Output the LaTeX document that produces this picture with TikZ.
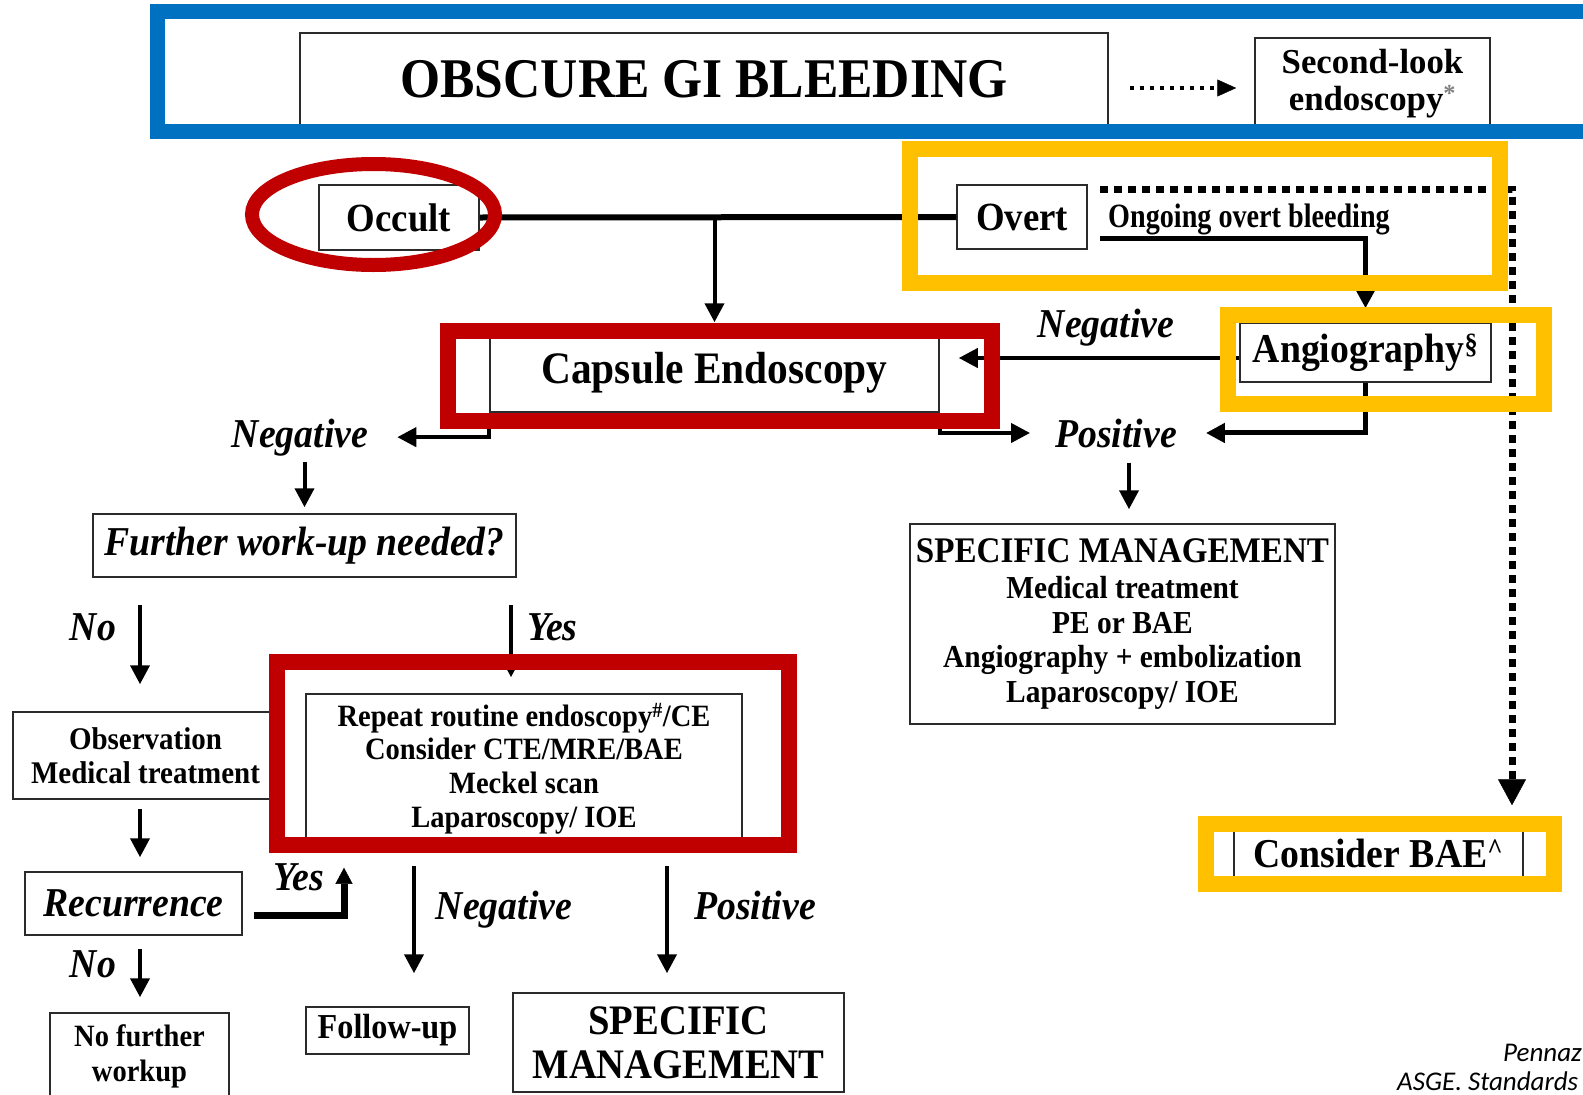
\documentclass[tikz,border=0pt]{standalone}
\usepackage{graphicx}
\usepackage{fontspec}
\setmainfont{Liberation Serif}[FakeStretch=0.92]
\newfontfamily\footfont{Carlito}
\usetikzlibrary{arrows.meta}
\definecolor{hlblue}{HTML}{0070C0}
\definecolor{hlred}{HTML}{C00000}
\definecolor{hlyellow}{HTML}{FFC000}
\definecolor{boxline}{HTML}{2B2B2B}
\newcommand{\fsz}[2]{\fontsize{#1}{#2}\selectfont}
\tikzset{
  box/.style={draw=boxline, line width=1.5pt, inner sep=0pt, align=center},
  lbl/.style={inner sep=0pt, font=\bfseries\itshape\fsz{41}{48}},
  conn/.style={line width=4pt, -{Triangle[length=19pt,width=19pt]}},
  hl/.style={line width=16pt},
}
\begin{document}
\begin{tikzpicture}[x=1pt,y=-1pt]
\useasboundingbox (0,0) rectangle (1583,1095);
\clip (0,0) rectangle (1583,1095);
\fill[white] (0,0) rectangle (1583,1095);

% ---------- boxes ----------
\node[box, minimum width=808pt, minimum height=93pt, font=\bfseries\fsz{56}{60}] (obscure) at (704,79.5) {OBSCURE GI BLEEDING};
\node[box, minimum width=235pt, minimum height=88pt] (second) at (1372.5,82) {};
\node[inner sep=0pt, align=center, font=\bfseries\fsz{35}{37}] (secondtxt) at (1372.5,84) {\scalebox{1.08}[1]{Second-look}\\\scalebox{1.08}[1]{endoscopy\textsuperscript{\color{gray}*}}};
\node[box, minimum width=160pt, minimum height=65pt, font=\bfseries\fsz{40}{44}] (occult) at (399,217.5) {Occult};
\node[box, minimum width=130pt, minimum height=64pt, font=\bfseries\fsz{40}{44}] (overt) at (1022,217) {Overt};
\node[inner sep=0pt, anchor=base, font=\bfseries\fsz{34}{40}] (ongoing) at (1249,227) {\scalebox{0.9}[1]{Ongoing overt bleeding}};
\node[box, minimum width=449pt, minimum height=79pt, font=\bfseries\fsz{45}{50}] (capsule) at (714.5,372.5) {Capsule Endoscopy};
\node[box, minimum width=251pt, minimum height=59pt, font=\bfseries\fsz{41}{46}] (angio) at (1365.5,352.5) {Angiography\textsuperscript{\S}};
\node[box, minimum width=423pt, minimum height=63pt, font=\bfseries\itshape\fsz{41}{46}] (further) at (304.5,545.5) {Further work-up needed?};
\node[box, minimum width=425pt, minimum height=200pt, font=\bfseries\fsz{32}{34.5}] (specR) at (1122.5,624) {{\fontsize{36}{34.5}\selectfont SPECIFIC MANAGEMENT}\\[2pt]Medical treatment\\PE or BAE\\Angiography + embolization\\Laparoscopy/ IOE};
\node[box, minimum width=265pt, minimum height=87pt, font=\bfseries\fsz{31.5}{34}] (obs) at (145.5,755.5) {Observation\\Medical treatment};
\node[box, minimum width=436pt, minimum height=149pt, font=\bfseries\fsz{31}{33.7}] (repeat) at (524,768.5) {Repeat routine endoscopy\textsuperscript{\#}/CE\\Consider CTE/MRE/BAE\\Meckel scan\\Laparoscopy/ IOE};
\node[box, minimum width=217pt, minimum height=63pt, font=\bfseries\itshape\fsz{41}{46}] (rec) at (133.5,903.5) {Recurrence};
\node[box, minimum width=179pt, minimum height=87pt, font=\bfseries\fsz{31}{35}] (nofurther) at (139.5,1056.5) {No further\\workup};
\node[box, minimum width=163pt, minimum height=47pt, font=\bfseries\fsz{35}{40}] (followup) at (387.5,1030.5) {Follow-up};
\node[box, minimum width=331pt, minimum height=99pt, font=\bfseries\fsz{42}{44}] (specB) at (678.5,1042.5) {SPECIFIC\\MANAGEMENT};
\node[box, minimum width=289pt, minimum height=54pt, font=\bfseries\fsz{41}{46}] (cbae) at (1378.5,853) {Consider BAE\textsuperscript{\textasciicircum}};

% ---------- labels ----------
\node[lbl, anchor=base] (neg1) at (300,447) {Negative};
\node[lbl, anchor=base] (pos1) at (1116,447) {Positive};
\node[lbl, anchor=base] (neg2) at (1106,337) {Negative};
\node[lbl, anchor=base] (no1) at (93,640) {No};
\node[lbl, anchor=base west] (yes1) at (527,640) {Yes};
\node[lbl, anchor=base] (yes2) at (299,890) {Yes};
\node[lbl, anchor=base] (no2) at (93,977) {No};
\node[lbl, anchor=base] (neg3) at (504,919) {Negative};
\node[lbl, anchor=base] (pos3) at (755,919) {Positive};
\node[inner sep=0pt, anchor=base east, font=\footfont\itshape\fsz{27}{30}] (ft1) at (1582,1061) {Pennaz};
\node[inner sep=0pt, anchor=base west, font=\footfont\itshape\fsz{27}{30}] (ft2) at (1397,1090) {ASGE. Standards};

% ---------- helper coordinates ----------
\coordinate (yDot) at (0,88);
\coordinate (og) at (1100,238);
\coordinate (dA) at (1100,189);
\coordinate (dB) at (1512,0);
\coordinate (yNeg) at (0,358);
\coordinate (xS) at (1129,0);
\coordinate (xL) at (140,0);
\coordinate (xY) at (511,0);
\coordinate (yR) at (0,915);
\coordinate (xU) at (344,0);
\coordinate (xN) at (414,0);
\coordinate (xP) at (667,0);

% ---------- connectors ----------
\draw[line width=4pt, dash pattern=on 4pt off 6pt, -{Triangle[length=19pt,width=17pt,line width=0.5pt]}, shorten <=21pt, shorten >=18pt] (obscure.east |- yDot) -- (second.west |- yDot);
\draw[line width=6pt] (occult.east) -- (overt.west);
\draw[conn, shorten >=10pt] (capsule.north |- occult.east) -- (capsule.north);
\draw[conn, line width=5pt, shorten >=14pt] (og) -| (angio.north);
\draw[line width=7pt, dash pattern=on 8pt off 6pt, -{Triangle[length=26pt,width=28pt,line width=0.5pt]}, shorten >=20pt] (dA) -| (cbae.north -| dB);
\draw[conn, shorten >=19pt] (angio.west |- yNeg) -- (capsule.east |- yNeg);
\draw[conn, line width=5pt, shorten >=29pt] (angio.south) |- (pos1.east);
\draw[conn, shorten >=29pt] (capsule.south west) |- (neg1.east);
\draw[conn, shorten >=25pt] (capsule.south east) |- (pos1.west);
\draw[conn, shorten <=6pt, shorten >=6pt] (neg1.south -| further.north) -- (further.north);
\draw[conn, shorten <=15pt, shorten >=14pt] (pos1.south -| xS) -- (specR.north -| xS);
\draw[conn, shorten <=27pt, shorten >=27pt] (further.south -| xL) -- (obs.north -| xL);
\draw[conn, shorten <=27pt, shorten >=16pt] (further.south -| xY) -- (repeat.north -| xY);
\draw[conn, shorten <=9pt, shorten >=14pt] (obs.south -| xL) -- (rec.north -| xL);
\draw[conn, shorten <=13pt, shorten >=15pt] (rec.south -| xL) -- (nofurther.north -| xL);
\draw[line width=7pt, -{Triangle[length=16pt,width=17pt,line width=0.5pt]}, shorten <=11pt, shorten >=24pt] (rec.east |- yR) -| (repeat.south -| xU);
\draw[conn, shorten <=22pt, shorten >=33pt] (repeat.south -| xN) -- (followup.north -| xN);
\draw[conn, shorten <=22pt, shorten >=19pt] (repeat.south -| xP) -- (specB.north -| xP);

% ---------- highlight overlays ----------
\draw[hlblue, line width=15pt] (157,11.5) rectangle (1620,131.5);
\draw[hlred, line width=14pt] (373.5,214.5) ellipse [x radius=121.5, y radius=50.5];
\draw[hlred, hl] (448,331) rectangle (992,421);
\draw[hlred, hl] (277,662) rectangle (789,845);
\draw[hlyellow, hl] (910,149) rectangle (1500,283);
\draw[hlyellow, hl] (1228,315) rectangle (1544,404);
\draw[hlyellow, hl] (1206,823.5) rectangle (1554,883.5);
\end{tikzpicture}
\end{document}
